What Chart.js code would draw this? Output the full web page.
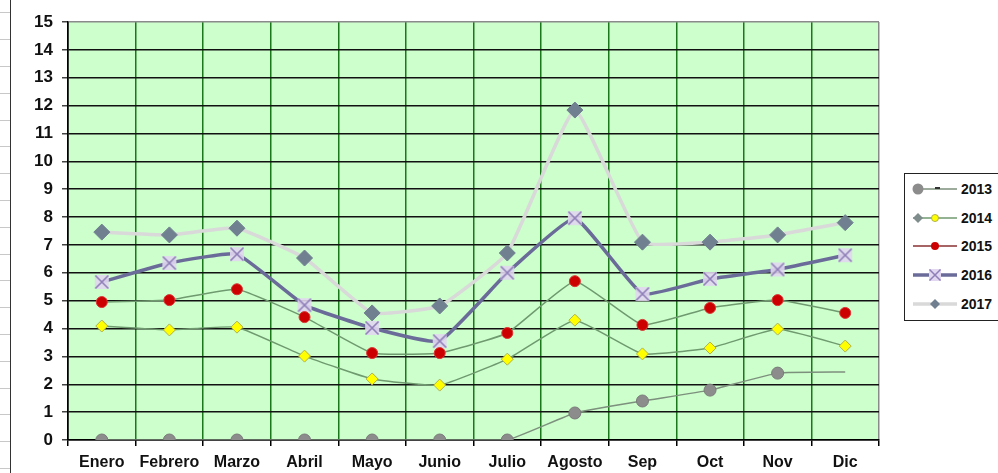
<!DOCTYPE html>
<html>
<head>
<meta charset="utf-8">
<script src="https://cdn.jsdelivr.net/npm/chart.js@4"></script>
<style>
    body { margin: 0; background: #fff; }
    #wrap { position: relative; width: 998px; height: 473px; overflow: hidden; }
    #rows { position: absolute; left: 0; top: 0; width: 10px; height: 473px;
        background: repeating-linear-gradient(to bottom, transparent 0px, transparent 12.5px, #c8c8c8 12.5px, #c8c8c8 13.5px, transparent 13.5px, transparent 26.8px); }
    #edge { position: absolute; left: 10px; top: 0; width: 1px; height: 473px; background: #333; }
    #chart { position: absolute; left: 0; top: 0; }
    #legend { position: absolute; left: 904px; top: 173px; width: 110px; height: 146px; border: 1px solid #222; background: #fff;
        font: bold 14px "Liberation Sans", Arial, sans-serif; color: #111; }
    .row { position: absolute; left: 4px; height: 16px; display: flex; align-items: center; }
    .row svg { margin-right: 2px; }
</style>
</head>
<body>
<div id="wrap">
    <div id="rows"></div>
    <div id="edge"></div>
    <canvas id="chart" width="998" height="473"></canvas>
    <div id="legend"></div>
</div>
<script>
const meses = ['Enero', 'Febrero', 'Marzo', 'Abril', 'Mayo', 'Junio', 'Julio', 'Agosto', 'Sep', 'Oct', 'Nov', 'Dic'];
const anos = ['2013', '2014', '2015', '2016', '2017'];

const v2013 = [0, 0, 0, 0, 0, 0, 0, 0.97, 1.4, 1.79, 2.4, 2.44];
const v2014 = [4.09, 3.95, 4.05, 3.01, 2.19, 1.97, 2.9, 4.3, 3.09, 3.3, 3.98, 3.37];
const v2015 = [4.95, 5.02, 5.41, 4.41, 3.12, 3.12, 3.84, 5.7, 4.13, 4.74, 5.02, 4.56];
const v2016 = [5.67, 6.35, 6.67, 4.84, 4.02, 3.55, 6.0, 7.96, 5.24, 5.78, 6.12, 6.63];
const v2017 = [7.46, 7.36, 7.6, 6.53, 4.56, 4.81, 6.71, 11.84, 7.1, 7.1, 7.36, 7.8];

const yTicks = [0, 1, 2, 3, 4, 5, 6, 7, 8, 9, 10, 11, 12, 13, 14, 15];

// marcador de 2016: cuadro lila con aspa
function markerCruz() {
    const c = document.createElement('canvas');
    c.width = 16; c.height = 16;
    const g = c.getContext('2d');
    g.fillStyle = 'rgba(225,215,240,0.9)';
    g.fillRect(1, 1, 14, 14);
    g.strokeStyle = '#8f7fb8';
    g.lineWidth = 1.6;
    g.beginPath();
    g.moveTo(1.5, 1.5); g.lineTo(14.5, 14.5);
    g.moveTo(14.5, 1.5); g.lineTo(1.5, 14.5);
    g.stroke();
    return c;
}

const fuente = { family: '"Liberation Sans", Arial, sans-serif', weight: 'bold' };
const suave = 0.12;

new Chart(document.getElementById('chart').getContext('2d'), {
    type: 'line',
    data: {
        labels: meses,
        datasets: [
            { label: anos[0], data: v2013, borderColor: '#7d8f7d', borderWidth: 1.5, tension: suave, clip: 0,
              pointStyle: 'circle', pointRadius: v2013.map((v, i) => i === v2013.length - 1 ? 0 : 6),
              pointBackgroundColor: '#8c8c8c', pointBorderColor: '#7a7a7a', pointBorderWidth: 1 },
            { label: anos[1], data: v2014, borderColor: '#6f9a6f', borderWidth: 1.5, tension: suave,
              pointStyle: 'rectRot', pointRadius: 6, pointBackgroundColor: '#ffff00', pointBorderColor: '#b0b050', pointBorderWidth: 1 },
            { label: anos[2], data: v2015, borderColor: '#6f9a6f', borderWidth: 1.5, tension: suave,
              pointStyle: 'circle', pointRadius: 5.5, pointBackgroundColor: '#cc0000', pointBorderColor: '#dd3333', pointBorderWidth: 1 },
            { label: anos[3], data: v2016, borderColor: '#6b6b99', borderWidth: 3.5, tension: suave,
              pointStyle: markerCruz(), pointRadius: 8 },
            { label: anos[4], data: v2017, borderColor: '#d9d9d9', borderWidth: 3.5, tension: suave,
              pointStyle: 'rectRot', pointRadius: 8, pointBackgroundColor: '#708090', pointBorderColor: '#708090', pointBorderWidth: 1 }
        ]
    },
    options: {
        responsive: false,
        animation: false,
        layout: { padding: { top: 22, right: 119, bottom: 0, left: 0 } },
        plugins: { legend: { display: false }, tooltip: { enabled: false } },
        scales: {
            x: {
                offset: true,
                afterFit: s => { s.height = 33; },
                grid: {
                    offset: true,
                    lineWidth: 1.5,
                    color: ctx => ctx.index === undefined ? '#8a8a8a' : (ctx.index === 0 ? '#000' : '#1a781a'),
                    tickColor: '#000',
                    tickLength: 6
                },
                border: { color: '#000', width: 1.5 },
                ticks: { color: '#111', font: { ...fuente, size: 16 }, padding: 7, maxRotation: 0, autoSkip: false }
            },
            y: {
                min: 0,
                max: 15,
                afterFit: s => { s.width = 68; },
                afterBuildTicks: s => { s.ticks = yTicks.map(v => ({ value: v })); },
                grid: {
                    lineWidth: 1.5,
                    color: ctx => ctx.tick && ctx.tick.value === 15 ? '#8a8a8a' : '#111',
                    tickColor: '#444',
                    tickLength: 6
                },
                border: { color: '#000', width: 1.5 },
                ticks: { color: '#111', font: { ...fuente, size: 17 }, padding: 9 }
            }
        }
    },
    plugins: [{
        id: 'fondo',
        beforeDraw: chart => {
            const a = chart.chartArea;
            const g = chart.ctx;
            g.save();
            g.fillStyle = '#ccffcc';
            g.fillRect(a.left, a.top, a.right - a.left, a.bottom - a.top);
            g.restore();
        }
    }]
});

// leyenda
const iconos = [
    '<line x1="4" y1="8" x2="48" y2="8" stroke="#7d8f7d" stroke-width="1.5"/><circle cx="9" cy="8" r="5.5" fill="#8c8c8c"/><line x1="26" y1="7" x2="31" y2="7" stroke="#333" stroke-width="2"/>',
    '<line x1="4" y1="8" x2="48" y2="8" stroke="#6f9a6f" stroke-width="1.5"/><polygon points="4,8 9,3 14,8 9,13" fill="#7f8c8c"/><circle cx="26" cy="8" r="3.5" fill="#ffff00" stroke="#b0b050"/>',
    '<line x1="4" y1="8" x2="48" y2="8" stroke="#8a3030" stroke-width="1.5"/><circle cx="26" cy="8" r="4" fill="#cc0000"/>',
    '<line x1="4" y1="8" x2="48" y2="8" stroke="#6b6b99" stroke-width="3.5"/><rect x="20" y="2" width="12" height="12" fill="#e1d7f0"/><path d="M20.5 2.5 L31.5 13.5 M31.5 2.5 L20.5 13.5" stroke="#8f7fb8" stroke-width="1.5"/>',
    '<line x1="4" y1="8" x2="48" y2="8" stroke="#d9d9d9" stroke-width="3.5"/><polygon points="21,8 26,3 31,8 26,13" fill="#708090"/>'
];
const legend = document.getElementById('legend');
anos.forEach((ano, i) => {
    const row = document.createElement('div');
    row.className = 'row';
    row.style.top = (7 + i * 28.7) + 'px';
    row.innerHTML = '<svg width="50" height="16">' + iconos[i] + '</svg><span>' + ano + '</span>';
    legend.appendChild(row);
});
</script>
</body>
</html>
